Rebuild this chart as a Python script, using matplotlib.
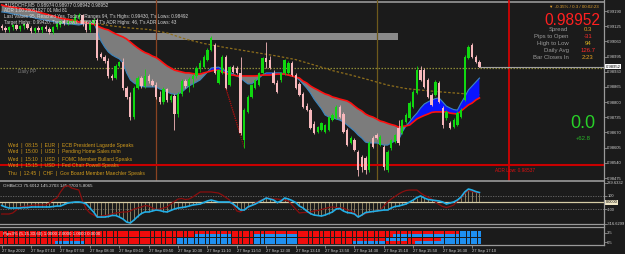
import matplotlib
matplotlib.use("Agg")
import matplotlib.pyplot as plt
import numpy as np
from matplotlib.lines import Line2D
from matplotlib.transforms import blended_transform_factory as btf

plt.rcParams['font.family'] = ['Liberation Sans', 'DejaVu Sans']

# ---------------- data ----------------
opens = [0.99126, 0.99117, 0.99109, 0.99121, 0.99130, 0.99113, 0.99126, 0.99134, 0.99117, 0.99104,
         0.99117, 0.99109, 0.99121, 0.99113, 0.99100, 0.99121, 0.99134, 0.99147, 0.99139, 0.99143,
         0.99147, 0.99164, 0.99173, 0.99134, 0.99109, 0.99139, 0.99151, 0.99006, 0.98993, 0.98976,
         0.98912, 0.98903, 0.98955, 0.98972, 0.98860, 0.98822, 0.98736, 0.98860, 0.98903, 0.98869,
         0.98912, 0.98890, 0.98873, 0.98822, 0.98801, 0.98856, 0.98809, 0.98826, 0.98749, 0.98835,
         0.98890, 0.98869, 0.98899, 0.98912, 0.98946, 0.98950, 0.98980, 0.99023, 0.99044, 0.98882,
         0.98925, 0.98993, 0.98873, 0.98950, 0.98946, 0.98925, 0.98638, 0.98758, 0.98822, 0.98860,
         0.98873, 0.98925, 0.98989, 0.98980, 0.98925, 0.98882, 0.98895, 0.98925, 0.98925, 0.98967,
         0.98916, 0.98878, 0.98835, 0.98783, 0.98766, 0.98706, 0.98672, 0.98681, 0.98672, 0.98681,
         0.98723, 0.98732, 0.98779, 0.98749, 0.98681, 0.98625, 0.98638, 0.98586, 0.98565, 0.98561,
         0.98510, 0.98646, 0.98659, 0.98616, 0.98608, 0.98510, 0.98604, 0.98629, 0.98689, 0.98668,
         0.98715, 0.98732, 0.98779, 0.98839, 0.98937, 0.98937, 0.98895, 0.98830, 0.98830, 0.98882,
         0.98775, 0.98732, 0.98711, 0.98693, 0.98702, 0.98736, 0.98809, 0.98989, 0.99044, 0.98993,
         0.98972]
highs = [0.99134, 0.99126, 0.99126, 0.99134, 0.99134, 0.99130, 0.99139, 0.99143, 0.99126, 0.99121,
         0.99126, 0.99126, 0.99130, 0.99121, 0.99126, 0.99143, 0.99151, 0.99156, 0.99151, 0.99156,
         0.99177, 0.99181, 0.99177, 0.99151, 0.99147, 0.99160, 0.99160, 0.99015, 0.99002, 0.98989,
         0.98920, 0.98963, 0.98976, 0.98989, 0.98869, 0.98843, 0.98869, 0.98912, 0.98912, 0.98942,
         0.98920, 0.98899, 0.98886, 0.98848, 0.98865, 0.98860, 0.98835, 0.98835, 0.98843, 0.98899,
         0.98899, 0.98907, 0.98920, 0.98955, 0.98980, 0.99002, 0.99032, 0.99083, 0.99053, 0.98942,
         0.99002, 0.99002, 0.98955, 0.98959, 0.98955, 0.98993, 0.98775, 0.98830, 0.98878, 0.98899,
         0.98929, 0.98993, 0.99057, 0.98997, 0.98937, 0.98895, 0.98929, 0.98985, 0.98976, 0.98976,
         0.98925, 0.98886, 0.98843, 0.98796, 0.98775, 0.98719, 0.98698, 0.98715, 0.98706, 0.98741,
         0.98753, 0.98788, 0.98788, 0.98758, 0.98689, 0.98655, 0.98646, 0.98595, 0.98574, 0.98569,
         0.98634, 0.98655, 0.98668, 0.98659, 0.98616, 0.98595, 0.98642, 0.98664, 0.98723, 0.98728,
         0.98753, 0.98805, 0.98852, 0.98955, 0.98955, 0.98946, 0.98903, 0.98839, 0.98895, 0.98890,
         0.98783, 0.98766, 0.98719, 0.98732, 0.98762, 0.98775, 0.99002, 0.99044, 0.99053, 0.99002,
         0.98980]
lows = [0.99109, 0.99100, 0.99100, 0.99109, 0.99109, 0.99104, 0.99113, 0.99113, 0.99096, 0.99096,
        0.99100, 0.99096, 0.99104, 0.99092, 0.99092, 0.99113, 0.99121, 0.99130, 0.99130, 0.99134,
        0.99139, 0.99156, 0.99126, 0.99100, 0.99100, 0.99130, 0.98980, 0.98989, 0.98967, 0.98903,
        0.98895, 0.98899, 0.98950, 0.98852, 0.98813, 0.98723, 0.98728, 0.98856, 0.98860, 0.98860,
        0.98882, 0.98869, 0.98813, 0.98792, 0.98792, 0.98801, 0.98801, 0.98681, 0.98736, 0.98826,
        0.98860, 0.98843, 0.98865, 0.98903, 0.98929, 0.98946, 0.98976, 0.99019, 0.98920, 0.98878,
        0.98920, 0.98856, 0.98869, 0.98925, 0.98920, 0.98659, 0.98604, 0.98753, 0.98818, 0.98856,
        0.98869, 0.98920, 0.98946, 0.98942, 0.98878, 0.98839, 0.98886, 0.98916, 0.98920, 0.98912,
        0.98856, 0.98826, 0.98775, 0.98762, 0.98685, 0.98664, 0.98668, 0.98676, 0.98668, 0.98676,
        0.98719, 0.98728, 0.98732, 0.98668, 0.98612, 0.98621, 0.98591, 0.98484, 0.98501, 0.98493,
        0.98501, 0.98604, 0.98642, 0.98612, 0.98510, 0.98501, 0.98595, 0.98625, 0.98616, 0.98664,
        0.98711, 0.98728, 0.98775, 0.98835, 0.98890, 0.98860, 0.98818, 0.98783, 0.98826, 0.98796,
        0.98689, 0.98723, 0.98685, 0.98689, 0.98698, 0.98732, 0.98805, 0.98985, 0.98989, 0.98967,
        0.98950]
closes = [0.99117, 0.99109, 0.99121, 0.99130, 0.99113, 0.99126, 0.99134, 0.99117, 0.99104, 0.99117,
          0.99109, 0.99121, 0.99113, 0.99100, 0.99121, 0.99134, 0.99147, 0.99139, 0.99143, 0.99147,
          0.99164, 0.99173, 0.99134, 0.99109, 0.99139, 0.99151, 0.98989, 0.98993, 0.98976, 0.98912,
          0.98903, 0.98955, 0.98972, 0.98860, 0.98822, 0.98736, 0.98860, 0.98903, 0.98869, 0.98912,
          0.98890, 0.98873, 0.98822, 0.98801, 0.98856, 0.98809, 0.98826, 0.98749, 0.98835, 0.98890,
          0.98869, 0.98899, 0.98912, 0.98946, 0.98967, 0.98993, 0.99023, 0.99074, 0.98925, 0.98937,
          0.98993, 0.98860, 0.98950, 0.98929, 0.98925, 0.98668, 0.98766, 0.98822, 0.98873, 0.98895,
          0.98925, 0.98989, 0.98972, 0.98946, 0.98882, 0.98843, 0.98925, 0.98980, 0.98967, 0.98916,
          0.98860, 0.98830, 0.98779, 0.98766, 0.98689, 0.98668, 0.98693, 0.98711, 0.98702, 0.98736,
          0.98745, 0.98779, 0.98736, 0.98672, 0.98616, 0.98646, 0.98595, 0.98510, 0.98522, 0.98510,
          0.98625, 0.98608, 0.98646, 0.98651, 0.98522, 0.98586, 0.98638, 0.98659, 0.98625, 0.98723,
          0.98745, 0.98796, 0.98843, 0.98937, 0.98895, 0.98865, 0.98822, 0.98788, 0.98886, 0.98801,
          0.98702, 0.98758, 0.98689, 0.98723, 0.98753, 0.98766, 0.98993, 0.99036, 0.98993, 0.98972,
          0.98952]

ma_red = [0.99216, 0.99211, 0.99209, 0.99207, 0.99203, 0.99201, 0.99199, 0.99196, 0.99194, 0.99190,
          0.99186, 0.99181, 0.99177, 0.99173, 0.99169, 0.99164, 0.99160, 0.99156, 0.99154, 0.99151,
          0.99147, 0.99143, 0.99141, 0.99139, 0.99136, 0.99134, 0.99126, 0.99119, 0.99113, 0.99109,
          0.99100, 0.99092, 0.99085, 0.99079, 0.99070, 0.99057, 0.99044, 0.99032, 0.99021, 0.99012,
          0.99006, 0.98997, 0.98991, 0.98980, 0.98967, 0.98955, 0.98946, 0.98937, 0.98933, 0.98929,
          0.98925, 0.98925, 0.98922, 0.98920, 0.98920, 0.98925, 0.98929, 0.98933, 0.98937, 0.98937,
          0.98929, 0.98925, 0.98916, 0.98916, 0.98912, 0.98912, 0.98912, 0.98912, 0.98912, 0.98912,
          0.98914, 0.98916, 0.98916, 0.98916, 0.98918, 0.98920, 0.98920, 0.98920, 0.98916, 0.98912,
          0.98907, 0.98903, 0.98890, 0.98882, 0.98869, 0.98860, 0.98852, 0.98843, 0.98835, 0.98830,
          0.98822, 0.98818, 0.98813, 0.98809, 0.98805, 0.98796, 0.98783, 0.98771, 0.98762, 0.98749,
          0.98741, 0.98736, 0.98728, 0.98719, 0.98715, 0.98709, 0.98704, 0.98700, 0.98693, 0.98696,
          0.98698, 0.98702, 0.98715, 0.98728, 0.98736, 0.98743, 0.98749, 0.98756, 0.98758, 0.98758,
          0.98758, 0.98758, 0.98753, 0.98751, 0.98749, 0.98762, 0.98775, 0.98788, 0.98796, 0.98809,
          0.98818]
ma_blue = [0.99186, 0.99184, 0.99181, 0.99177, 0.99175, 0.99173, 0.99169, 0.99166, 0.99164, 0.99160,
           0.99156, 0.99154, 0.99151, 0.99147, 0.99145, 0.99141, 0.99139, 0.99136, 0.99134, 0.99134,
           0.99132, 0.99130, 0.99134, 0.99136, 0.99141, 0.99143, 0.99104, 0.99062, 0.99036, 0.99015,
           0.99002, 0.98993, 0.98985, 0.98967, 0.98925, 0.98895, 0.98882, 0.98873, 0.98867, 0.98865,
           0.98865, 0.98865, 0.98865, 0.98856, 0.98852, 0.98843, 0.98837, 0.98833, 0.98835, 0.98843,
           0.98856, 0.98869, 0.98878, 0.98886, 0.98895, 0.98912, 0.98929, 0.98946, 0.98948, 0.98950,
           0.98942, 0.98933, 0.98929, 0.98920, 0.98912, 0.98903, 0.98890, 0.98878, 0.98878, 0.98890,
           0.98903, 0.98916, 0.98925, 0.98925, 0.98925, 0.98925, 0.98925, 0.98920, 0.98916, 0.98912,
           0.98907, 0.98895, 0.98878, 0.98860, 0.98839, 0.98813, 0.98792, 0.98771, 0.98745, 0.98736,
           0.98732, 0.98728, 0.98723, 0.98715, 0.98702, 0.98689, 0.98676, 0.98659, 0.98646, 0.98629,
           0.98625, 0.98625, 0.98625, 0.98621, 0.98616, 0.98616, 0.98625, 0.98634, 0.98638, 0.98672,
           0.98698, 0.98715, 0.98736, 0.98753, 0.98775, 0.98792, 0.98801, 0.98809, 0.98815, 0.98818,
           0.98801, 0.98783, 0.98775, 0.98768, 0.98766, 0.98796, 0.98822, 0.98852, 0.98869, 0.98886,
           0.98903]
ma_slow_bars = [0, 5, 10, 15, 20, 25, 30, 35, 40, 45, 50, 55, 60, 65, 70, 75, 80, 85, 90, 95, 100,
                105, 110, 115, 120, 125, 130]
ma_slow = [0.99194, 0.99184, 0.99173, 0.99162, 0.99151, 0.99139, 0.99126, 0.99117, 0.99111, 0.99096,
           0.99070, 0.99051, 0.99036, 0.99023, 0.99010, 0.98997, 0.98982, 0.98959, 0.98935, 0.98916,
           0.98895, 0.98873, 0.98858, 0.98850, 0.98843, 0.98837, 0.98831]

cci_blue = [-48, -70, -85, -85, -85, -85, -78, -78, -70, -70, -70, -70, -70, -70, -63, -56, -56, -33,
            -11, -4, 4, 4, -4, -26, -85, -144, -219, -219, -219, -211, -196, -196, -219, -248, -293,
            -307, -263, -211, -167, -144, -144, -130, -115, -122, -137, -144, -122, -100, -85, -78,
            -70, -56, -41, -33, -26, -4, 19, 33, 19, 4, 4, 4, 4, -26, -70, -115, -115, -70, -48, -26,
            4, 33, 63, 48, 33, -4, 19, 63, 48, 26, -4, -56, -85, -130, -167, -189, -196, -204, -189,
            -167, -144, -100, -93, -130, -152, -159, -174, -219, -189, -152, -144, -137, -130, -122,
            -115, -115, -85, -63, -56, -41, -26, 4, 33, 70, 93, 63, 41, 33, 26, 19, 4, -26, -11, 4,
            33, 78, 152, 196, 181, 159, 144]
cci_red = [-174, -174, -174, -159, -115, -70, -63, -56, -48, -41, -41, -41, -41, -11, 33, 63, 152,
           226, 248, 211, 196, 181, 19, -100, -159, -189, -219, -204, -196, -189, -174, -159, -152,
           -144, -144, -130, -100, -85, -70, -48, -56, -85, -107, -100, -85, -70, -26, 11, 48, 56, 41,
           48, 78, 115, 152, 152, 152, 152, 144, 137, 107, 70, 33, -41, -130, -144, -107, -78, -48,
           -11, 19, 41, 63, 56, 48, 48, 41, 33, 19, -41, -100, -159, -152, -152, -144, -130, -122,
           -107, -93, -78, -70, -78, -85, -85, -115, -130, -159, -219, -189, -167, -152, -137, -130,
           -115, -56, 4, 48, 85, 122, 152, 174, 181, 181, 181, 137, 100, 78, 48, 4, -33, -63, -78,
           -63, -41, 19, 63, 130, 174, 159, 144, 137]

# trend grid rows (bottom row first), run-length: (count, 'R' down / 'B' up)
grid_runs = [
    [(15, 'R'), (8, 'B'), (25, 'R'), (15, 'B'), (6, 'R'), (12, 'B'), (15, 'R'), (9, 'B'), (8, 'R'), (18, 'B')],
    [(48, 'R'), (15, 'B'), (6, 'R'), (12, 'B'), (24, 'R'), (6, 'B'), (9, 'R'), (11, 'B')],
    [(53, 'R'), (10, 'B'), (6, 'R'), (12, 'B'), (26, 'R'), (24, 'B')],
    [(125, 'R'), (6, 'B')],
]

time_labels = ['27 Sep 2022', '27 Sep 07:10', '27 Sep 07:50', '27 Sep 08:30', '27 Sep 09:10',
               '27 Sep 09:50', '27 Sep 10:30', '27 Sep 11:10', '27 Sep 11:50', '27 Sep 12:30',
               '27 Sep 13:10', '27 Sep 13:50', '27 Sep 14:30', '27 Sep 15:10', '27 Sep 15:50',
               '27 Sep 16:30', '27 Sep 17:10']
price_ticks = [0.99190, 0.99125, 0.99060, 0.98995, 0.98930, 0.98865, 0.98800, 0.98735, 0.98670,
               0.98605, 0.98540, 0.98475]
daily_pp = 0.98946
adr_low = 0.98530
adr_low_label = 'ADR Low: 0.98537'
top_level = 0.99230
zone_low, zone_high = 0.99066, 0.99095
session_bars = [42, 102]
day_end_bar = 138
zone_end_bar = 107.8

calendar = ['Wed  |  08:15  |  EUR  |  ECB President Lagarde Speaks',
            'Wed  |  15:00  |  USD  |  Pending Home Sales m/m',
            'Wed  |  15:10  |  USD  |  FOMC Member Bullard Speaks',
            'Wed  |  15:15  |  USD  |  Fed Chair Powell Speaks',
            'Thu  |  12:45  |  CHF  |  Gov Board Member Maechler Speaks']
header = ['USDCHF,M5  0.98974 0.98977 0.98942 0.98952',
          'ADR 1.00 20051827 01 Mid 81',
          "Last Values 95, Reached Yes, Today's Ranges 94, T's Highs: 0.99430, T's Lows: 0.98492",
          "Target Highs: 0.99420, Target Lows: 0.98530, T's ADR Highs: 46, T's ADR Lows: 43"]
info_labels = ['Spread', 'Pips to Open', 'High to Low', 'Daily Avg', 'Bar Closes In']
info_values = ['0.3', '-31', '94', '126.7', '2:23']
info_colors = ['#e6a020', '#ff2a2a', '#d8b020', '#ff2a2a', '#e6a020']

# ---------------- drawing ----------------
BG = '#1b1b1b'
W, H = 625, 254
fig = plt.figure(figsize=(W / 100, H / 100), dpi=100)
fig.patch.set_facecolor(BG)


def add_ax(x0, y0, w, h):
    a = fig.add_axes([x0 / W, 1 - (y0 + h) / H, w / W, h / H])
    a.set_facecolor(BG)
    for s in a.spines.values():
        s.set_visible(False)
    a.set_xticks([])
    return a


def ftext(x, y, s, **kw):
    kw.setdefault('va', 'center')
    fig.text(x / W, 1 - y / H, s, **kw)


def right_ticks(a, fs=3.0):
    a.yaxis.tick_right()
    a.tick_params(axis='y', colors='#8c8c8c', labelcolor='#d0d0d0', labelsize=fs,
                  length=2.0, width=0.6, pad=0.7)


XL = (-0.4626, 163.76)
o = np.array(opens); h = np.array(highs); l = np.array(lows); c = np.array(closes)
n = len(c)
idx = np.arange(n)

# ---- main price panel
ax = add_ax(0, 0, 603.5, 180.5)
ax.set_xlim(*XL)
ax.set_ylim(0.984645, 0.992371)

ax.axhline(top_level, color='#8e8e8e', lw=1.3, zorder=1)
ax.fill_between([XL[0], zone_end_bar], zone_low, zone_high, color='#8a8a8a', lw=0, zorder=1)
for b, colr in zip(session_bars, ['#8a4322', '#6e5a1c']):
    ax.axvline(b, color=colr, lw=0.9, zorder=1)
ax.axvline(day_end_bar, color='#e00000', lw=1.2, zorder=1)
ax.axhline(daily_pp, color='#8c8a38', lw=0.9, ls=(0, (1.2, 1.2)), zorder=2)
ax.plot([n - 1, XL[1]], [c[-1], c[-1]], color='#a0a0a0', lw=0.8, zorder=2)
ax.axhline(adr_low, color='#c80000', lw=1.5, zorder=2)
ax.plot(ma_slow_bars, ma_slow, color='#8f6f1c', lw=0.9, ls=(0, (2, 1.5)), zorder=2)

r = np.array(ma_red); bl = np.array(ma_blue)
ax.fill_between(idx, r, bl, where=bl <= r, interpolate=True, color='#7c7c7c', lw=0, zorder=2)
ax.fill_between(idx, r, bl, where=bl > r, interpolate=True, color='#0a14ff', lw=0, zorder=2)
ax.plot(idx, bl, color='#3c86c0', lw=0.8, zorder=3)
ax.plot(idx, r, color='#ff1010', lw=1.2, zorder=3)

# zigzag lines
ax.plot([61, 65], [c[61], l[65]], color='#a01010', lw=0.8, ls=(0, (1, 1)), zorder=3)
ax.plot([61, 66], [c[61], l[66]], color='#a01010', lw=0.8, ls=(0, (1, 1)), zorder=3)

up = c >= o
body_col = np.where(up, '#10d810', '#f7b8bc')
ax.vlines(idx, l, h, colors=body_col, lw=0.6, zorder=4)
ax.bar(idx, np.maximum(np.abs(c - o), 0.000015), bottom=np.minimum(o, c), width=0.64,
       color=body_col, lw=0, zorder=5)

right_ticks(ax)
ax.set_yticks(price_ticks)
ax.set_yticklabels(['%.5f' % t for t in price_ticks])
tr = btf(ax.transAxes, ax.transData)
ax.text(1.004, c[-1], '%.5f' % c[-1], transform=tr, fontsize=3.0, color='black', va='center',
        ha='left', bbox=dict(boxstyle='square,pad=0.15', fc='white', ec='none'), zorder=10)

# texts main panel
ftext(3, 4.5, '\u25bc', fontsize=3.2, color='#d0d0d0')
for k, s in enumerate(header):
    ftext(8 if k == 0 else 4, 4.8 + 5.8 * k, s, fontsize=3.3, color='#d8d8d8')
ftext(18, 71.5, 'Daily PP', fontsize=3.4, color='#808080')
for k, s in enumerate(calendar):
    ftext(8, 145 + 7 * k, s, fontsize=3.6, color='#d09a1c')
ftext(495, 170.5, adr_low_label, fontsize=3.4, color='#e01010')

ftext(599, 7, '\u25bc -0.35% / 0.3 / 00:02:23', fontsize=3.2, color='#e0a030', ha='right')
ftext(600, 20.5, '0.98952', fontsize=11.2, color='#ff2020', ha='right')
for k, (lab, val, vc) in enumerate(zip(info_labels, info_values, info_colors)):
    yk = 29.3 + 7 * k
    ftext(568.5, yk, lab, fontsize=4.3, color='#9a9a9a', ha='right')
    ftext(588, yk, val, fontsize=4.3, color=vc, ha='center')
ftext(583, 123.5, '0.0', fontsize=13, color='#28d028', ha='center')
ftext(583, 138.5, '+62.8', fontsize=4.3, color='#28b828', ha='center')

# ---- CCI panel
ax2 = add_ax(0, 182, 603.5, 42)
ax2.set_xlim(*XL)
ax2.set_ylim(-322, 300)
ax2.axhline(100, color='#6c6c6c', lw=0.6, ls=(0, (1.5, 1.5)))
ax2.axhline(-100, color='#6c6c6c', lw=0.6, ls=(0, (1.5, 1.5)))
ax2.vlines(idx, 0, cci_blue, colors='#b4a47a', lw=0.5, zorder=2)
ax2.axhline(0, color='#d6cca6', lw=0.9, zorder=3)
ax2.plot(idx, cci_red, color='#8a0e0e', lw=0.9, zorder=4)
ax2.plot(idx, cci_blue, color='#22aee6', lw=1.2, zorder=5)
cci_ticks = [289.6332, 100, -100, -316.6299]
right_ticks(ax2, fs=2.85)
ax2.set_yticks(cci_ticks)
ax2.set_yticklabels(['289.6332', '100', '-100', '-316.6299'])
tr2 = btf(ax2.transAxes, ax2.transData)
ax2.text(1.004, 0, '0.0000', transform=tr2, fontsize=2.9, color='black', va='center', ha='left',
         bbox=dict(boxstyle='square,pad=0.15', fc='#efe6c6', ec='none'), zorder=10)
ax2.text(0.005, 0.9, 'OHBbCCI 75.6012 145.2703 145.2703 5.8065', transform=ax2.transAxes,
         fontsize=3.2, color='#d8d8d8', va='center', ha='left')

# ---- trend grid panel
ax3 = add_ax(0, 227, 603.5, 18)
ax3.set_xlim(*XL)
ax3.set_ylim(-0.31, 5.23)
for row, runs in enumerate(grid_runs):
    cols = []
    for cnt, v in runs:
        cols += ['#f00c0c' if v == 'R' else '#1e8ff0'] * cnt
    ax3.bar(idx, 0.86, bottom=row + 0.07, width=0.84, color=cols, lw=0, zorder=2)
right_ticks(ax3)
ax3.set_yticks([3.5, 0.5])
ax3.set_yticklabels(['3.5', '0.5'])
ax3.text(0.005, 0.62, 'Pips3% (5,15,30,60) 1.0000 2.0000 1.0000 0.0000', transform=ax3.transAxes,
         fontsize=3.2, color='#f4f4f4', va='center', ha='left', zorder=5)
ax3.set_xticks(np.arange(0, 129, 8))
ax3.set_xticklabels(time_labels, ha='left')
ax3.tick_params(axis='x', colors='#8c8c8c', labelcolor='#d0d0d0', labelsize=3.0,
                length=2.0, width=0.6, pad=0.8)

# ---- frame lines
for yy, lw in [(181.0, 1.2), (224.3, 0.9), (226.6, 0.9), (245.2, 0.9)]:
    fig.add_artist(Line2D([0, 603.5 / W], [1 - yy / H] * 2, color='#9a9a9a', lw=lw))
fig.add_artist(Line2D([603.5 / W] * 2, [1 - 245.2 / H, 1], color='#9a9a9a', lw=0.9))

fig.savefig('out.png', dpi=100, facecolor=BG)
